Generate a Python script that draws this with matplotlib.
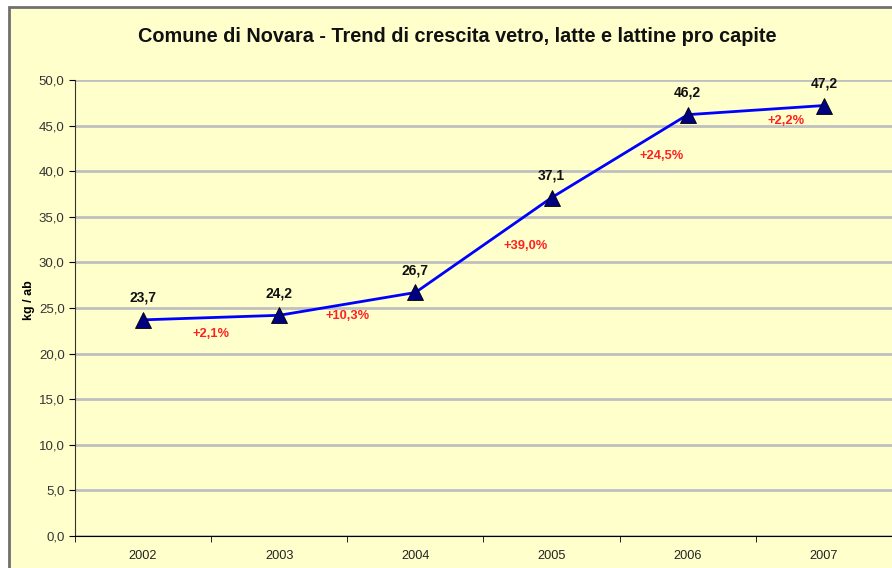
import matplotlib.pyplot as plt
from matplotlib.patches import Rectangle

years = ['2002', '2003', '2004', '2005', '2006', '2007']
kg_ab = [23.7, 24.2, 26.7, 37.1, 46.2, 47.2]
growth = ['+2,1%', '+10,3%', '+39,0%', '+24,5%', '+2,2%']
# where the growth labels sit (category index, value)
growth_x = [0.5, 1.5, 2.81, 3.81, 4.72]
growth_y = [22.15, 24.1, 31.8, 41.7, 45.5]

plt.rcParams['font.family'] = ['Liberation Sans', 'DejaVu Sans']
bg = '#FFFFCC'

fig = plt.figure(figsize=(8.92, 5.68), dpi=100, facecolor='white')
fig.patches.append(Rectangle((8.5 / 892, -0.05), 1.1, 1 - 7 / 568 + 0.05,
                             transform=fig.transFigure, facecolor=bg,
                             edgecolor='#707070', linewidth=2, zorder=-5))

ax = fig.add_axes([75 / 892, 32 / 568, 1 - 75 / 892, 456 / 568])
ax.set_facecolor(bg)
x = range(len(years))
ax.plot(x, kg_ab, color='#0000FF', linewidth=2, zorder=3)
ax.plot(x, kg_ab, linestyle='none', marker='^', markersize=11,
        color='#000080', markeredgecolor='black', markeredgewidth=0.6, zorder=4)

for i, v in enumerate(kg_ab):
    ax.annotate(f'{v:.1f}'.replace('.', ','), (i, v), xytext=(0, 11),
                textcoords='offset points', ha='center', va='bottom',
                fontsize=10, fontweight='bold', color='#111111')
for gx, gy, lab in zip(growth_x, growth_y, growth):
    ax.text(gx, gy, lab, ha='center', va='center', fontsize=9.3,
            fontweight='bold', color='#FF2020')

ax.set_xlim(-0.5, len(years) - 0.5)
ax.set_ylim(0, 50)
ax.set_yticks([i * 5 for i in range(11)])
ax.set_yticklabels([f'{i * 5:.1f}'.replace('.', ',') for i in range(11)])
ax.set_xticks(list(x))
ax.set_xticklabels(years)
ax.set_xticks([i - 0.5 for i in range(len(years) + 1)], minor=True)
ax.tick_params(axis='x', which='major', length=0, pad=10, labelsize=9.2, labelcolor='#222222')
ax.tick_params(axis='x', which='minor', length=4, direction='out', color='black')
ax.tick_params(axis='y', length=4, direction='out', labelsize=9.5, labelcolor='#333333')
ax.yaxis.grid(True, color='#C0C0C0', linewidth=2)
ax.set_axisbelow(True)
for s in ['top', 'right']:
    ax.spines[s].set_visible(False)
ax.spines['left'].set_color('#333333')
ax.spines['bottom'].set_color('black')
ax.set_ylabel('kg / ab', fontsize=9, fontweight='bold')
ax.yaxis.set_label_coords(-0.049, 0.517)

fig.text(457 / 892, 1 - 37 / 568, 'Comune di Novara - Trend di crescita vetro, latte e lattine pro capite',
         ha='center', va='center', fontsize=14.3, fontweight='bold', color='#111111')

fig.savefig('out.png', dpi=100, facecolor='white')
